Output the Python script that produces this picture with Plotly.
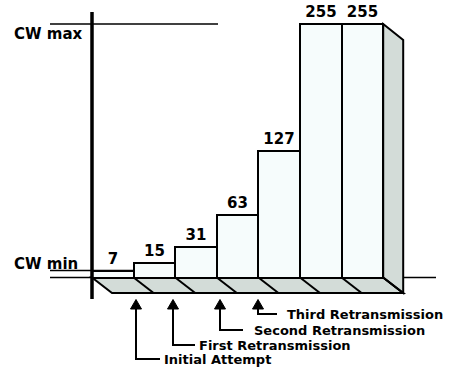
import plotly.graph_objects as go

# ---- data ----
attempts = [0, 1, 2, 3, 4, 5, 6]
cw_values = [7, 15, 31, 63, 127, 255, 255]
value_labels = [str(v) for v in cw_values]
arrow_labels = ["Initial Attempt", "First Retransmission",
                "Second Retransmission", "Third Retransmission"]
cw_axis_labels = ["CW max", "CW min"]

# ---- geometry (pixel helpers for decorations) ----
W, H = 463, 367
BAR_PX = 41.6          # pixels per bar slot
X0_PX = 92             # left edge of first bar
Y0_PX = 277.5          # baseline pixel
Y_SCALE = 0.994        # pixels per CW unit
xa = -0.5 - X0_PX / BAR_PX
xb = xa + W / BAR_PX
yb = -(H - Y0_PX) / Y_SCALE
yt = Y0_PX / Y_SCALE


def dx(p):
    return xa + p / BAR_PX


def dy(p):
    return (Y0_PX - p) / Y_SCALE


FILL = "#f6fcfc"
GRAY = "#d3dcd8"
FONT = "DejaVu Sans"

fig = go.Figure()
fig.add_trace(go.Bar(
    x=attempts, y=cw_values, width=1,
    marker=dict(color=FILL, line=dict(color="black", width=2)),
    text=value_labels, textposition="outside",
    textfont=dict(family=FONT, size=15, color="black", weight="bold"),
    cliponaxis=False, hoverinfo="skip",
))

shapes = []
n = len(cw_values)
left = -0.5
right = n - 0.5
off_x = 20 / BAR_PX
off_y = 15.5 / Y_SCALE

# floor
shapes.append(dict(type="path",
                   path=f"M {left},0 L {right},0 L {right+off_x},{-off_y} L {left+off_x},{-off_y} Z",
                   fillcolor=GRAY, line=dict(color="black", width=2), layer="below"))
for k in range(1, n):
    xk = k - 0.5
    shapes.append(dict(type="line", x0=xk, y0=0, x1=xk + off_x, y1=-off_y,
                       line=dict(color="black", width=2)))
# side face of last bar
top = cw_values[-1]
shapes.append(dict(type="path",
                   path=f"M {right},{top} L {right+off_x},{top-16} L {right+off_x},{-off_y} L {right},0 Z",
                   fillcolor=GRAY, line=dict(color="black", width=2)))
shapes.append(dict(type="line", x0=right, y0=0, x1=right + off_x, y1=-off_y,
                   line=dict(color="black", width=2)))
# baseline stubs
shapes.append(dict(type="line", x0=dx(50), y0=0, x1=left, y1=0, line=dict(color="black", width=1.5)))
shapes.append(dict(type="line", x0=right + off_x, y0=0, x1=dx(436), y1=0, line=dict(color="black", width=1.5)))
# CW max / CW min lines
shapes.append(dict(type="line", x0=dx(50), y0=max(cw_values), x1=dx(218), y1=max(cw_values),
                   line=dict(color="black", width=1.5)))
shapes.append(dict(type="line", x0=dx(50), y0=min(cw_values), x1=0.5, y1=min(cw_values),
                   line=dict(color="black", width=1.5)))
# vertical axis
shapes.append(dict(type="line", x0=left, y0=dy(12), x1=left, y1=dy(299),
                   line=dict(color="black", width=3.5)))

# arrows
arrow_x_px = [136, 173, 220, 258]
elbow_y_px = [359, 345, 330, 314]
elbow_end_px = [160, 195, 243, 277]
text_x_px = [162, 197, 252, 285]
annotations = []
for i, lab in enumerate(arrow_labels):
    ax = arrow_x_px[i]
    shapes.append(dict(type="path",
                       path=f"M {dx(ax)},{dy(299.5)} L {dx(ax-5.5)},{dy(309)} L {dx(ax+5.5)},{dy(309)} Z",
                       fillcolor="black", line=dict(color="black", width=1)))
    shapes.append(dict(type="path",
                       path=f"M {dx(ax)},{dy(306)} L {dx(ax)},{dy(elbow_y_px[i])} L {dx(elbow_end_px[i])},{dy(elbow_y_px[i])}",
                       line=dict(color="black", width=2)))
    annotations.append(dict(x=dx(text_x_px[i]), y=dy(elbow_y_px[i] + 0.5), text=lab, showarrow=False,
                            xanchor="left", yanchor="middle",
                            font=dict(family=FONT, size=13, color="black", weight="bold")))

annotations.append(dict(x=dx(12), y=dy(34), text=cw_axis_labels[0], showarrow=False,
                        xanchor="left", yanchor="middle",
                        font=dict(family=FONT, size=15, color="black", weight="bold")))
annotations.append(dict(x=dx(12), y=dy(264), text=cw_axis_labels[1], showarrow=False,
                        xanchor="left", yanchor="middle",
                        font=dict(family=FONT, size=15, color="black", weight="bold")))

fig.update_layout(
    width=W, height=H, autosize=False,
    margin=dict(l=0, r=0, t=0, b=0),
    paper_bgcolor="white", plot_bgcolor="white",
    xaxis=dict(range=[xa, xb], visible=False, fixedrange=True),
    yaxis=dict(range=[yb, yt], visible=False, fixedrange=True),
    showlegend=False, bargap=0,
    shapes=shapes, annotations=annotations,
)
fig.write_html("out.html")
